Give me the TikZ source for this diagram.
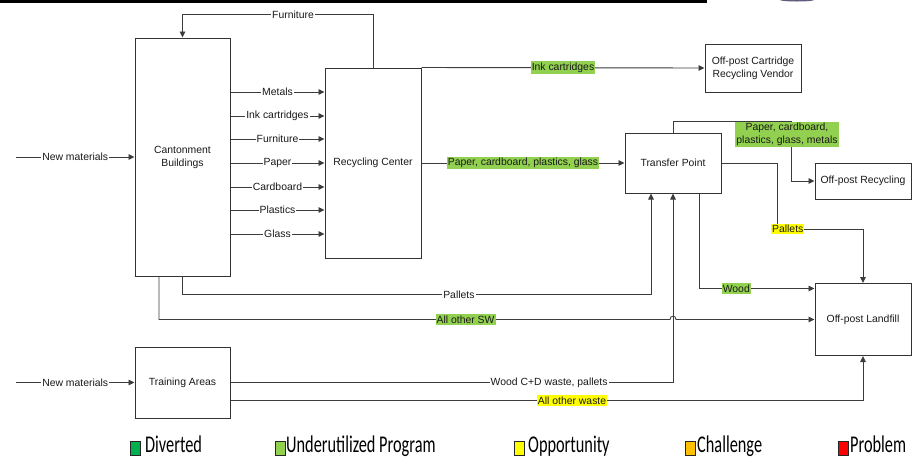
\documentclass[tikz,border=0pt]{standalone}
\usepackage{fontspec}
\setmainfont{Liberation Sans}
\newfontfamily\legendfont[FakeStretch=0.68]{Carlito}
\usepackage{tikz}
\usetikzlibrary{arrows.meta, positioning}

\definecolor{linegray}{RGB}{60,60,60}
\definecolor{divgreen}{RGB}{0,176,80}
\definecolor{undgreen}{RGB}{146,208,80}
\definecolor{oppyellow}{RGB}{255,255,0}
\definecolor{chalorange}{RGB}{255,192,0}
\definecolor{probred}{RGB}{255,0,0}
\definecolor{slidegray}{RGB}{95,95,125}

\begin{document}
\begin{tikzpicture}[x=1pt, y=-1pt, >={Triangle[length=6pt, width=5.5pt]},
    font=\fontsize{10.4}{13}\selectfont,
    blk/.style={draw=black!80, line width=1pt, align=center, text=black!90, inner sep=2pt},
    flow/.style={->, draw=linegray, line width=0.9pt},
    lbl/.style={fill=white, text=black!90, inner xsep=1pt, inner ysep=1.5pt, align=center},
    lblgreen/.style={lbl, fill=undgreen},
    lblyellow/.style={lbl, fill=oppyellow},
    legbox/.style={draw=black!85, line width=0.8pt, minimum width=10pt, minimum height=14pt, inner sep=0pt},
    legtext/.style={anchor=base west, inner sep=0pt, font=\legendfont\fontsize{24}{24}\selectfont}]
    % frame
    \useasboundingbox (0,0) rectangle (916,459);
    \fill[black] (0,0) rectangle (707,2.5);
    \fill[slidegray] (797,0) ellipse (17 and 1.5);

    % boxes
    \node[blk, minimum width=95pt, minimum height=238pt] (cant) at (182.5,157) {Cantonment\\Buildings};
    \node[blk, minimum width=96pt, minimum height=190pt] (rec) at (373,163) {Recycling Center};
    \node[blk, minimum width=96pt, minimum height=48pt] (vendor) at (753,68) {Off-post Cartridge\\Recycling Vendor};
    \node[blk, minimum width=96pt, minimum height=60pt] (tp) at (673,163) {Transfer Point};
    \node[blk, minimum width=96pt, minimum height=36pt] (opr) at (863,181) {Off-post Recycling};
    \node[blk, minimum width=96pt, minimum height=72pt] (land) at (863,319.5) {Off-post Landfill};
    \node[blk, minimum width=95pt, minimum height=71pt] (train) at (182.5,382.5) {Training Areas};

    \coordinate (in1) at (16,157);
    \coordinate (in2) at (16,382.5);
    \coordinate (hop) at (673,319.5);

    % inputs
    \draw[flow] (in1) -- node[lbl] {New materials} (cant.west);
    \draw[flow] (in2) -- node[lbl] {New materials} (train.west);

    % cantonment to recycling center
    \draw[flow] ([yshift=65pt]cant.east) -- node[lbl] {Metals} ([yshift=71pt]rec.west);
    \draw[flow] ([yshift=41pt]cant.east) -- node[lbl] {Ink cartridges} ([yshift=47pt]rec.west);
    \draw[flow] ([yshift=18pt]cant.east) -- node[lbl] {Furniture} ([yshift=24pt]rec.west);
    \draw[flow] ([yshift=-6pt]cant.east) -- node[lbl] {Paper} (rec.west);
    \draw[flow] ([yshift=-30pt]cant.east) -- node[lbl] {Cardboard} ([yshift=-24pt]rec.west);
    \draw[flow] ([yshift=-53pt]cant.east) -- node[lbl] {Plastics} ([yshift=-47pt]rec.west);
    \draw[flow] ([yshift=-77pt]cant.east) -- node[lbl] {Glass} ([yshift=-71pt]rec.west);
    \draw[flow] (rec.north) |- node[lbl, pos=0.71] {Furniture} ([yshift=23pt]cant.north) -- (cant.north);

    % recycling center out
    \draw[flow] (rec.north east) -- node[lblgreen] {Ink cartridges} (vendor.west);
    \draw[flow] (rec.east) -- node[lblgreen] {Paper, cardboard, plastics, glass} (tp.west);

    % transfer point out
    \draw[flow] (tp.north) -- ++(0,-11) -| node[lblgreen, pos=0.61, xshift=-4.5pt] {Paper, cardboard,\\plastics, glass, metals} ([xshift=-23pt]opr.west) -- (opr.west);
    \draw[flow] (tp.east) -- ++(56,0) -- ++(0,66) -| node[lblyellow, pos=0.06] {Pallets} (land.north);
    \draw[flow] ([xshift=-22pt]tp.south east) |- node[lblgreen, pos=0.66] {Wood} ([yshift=31pt]land.west);

    % into transfer point
    \draw[flow] (cant.south) -- ++(0,18) -| node[lbl, pos=0.295] {Pallets} ([xshift=-22pt]tp.south);
    \draw[flow] (train.east) -| node[lbl, pos=0.36] {Wood C+D waste, pallets} (tp.south);

    % into landfill
    \draw[flow] ([xshift=-23.5pt]cant.south) |- node[lblgreen, pos=0.8] {All other SW} ([xshift=-3pt]hop)
        .. controls ([xshift=-3pt, yshift=4.5pt]hop) and ([xshift=3pt, yshift=4.5pt]hop) .. ([xshift=3pt]hop) -- (land.west);
    \draw[flow] ([yshift=-18pt]train.east) -| node[lblyellow, pos=0.27] {All other waste} (land.south);

    % legend
    \node[legbox, fill=divgreen] (kdiv) at (135.5,448) {};
    \node[legtext] (tdiv) at (145,452.5) {Diverted};
    \node[legbox, fill=undgreen] (kund) at (280,448) {};
    \node[legtext] (tund) at (286,452.5) {Underutilized Program};
    \node[legbox, fill=oppyellow] (kopp) at (519,448) {};
    \node[legtext] (topp) at (528,452.5) {Opportunity};
    \node[legbox, fill=chalorange] (kcha) at (690,448) {};
    \node[legtext] (tcha) at (697,452.5) {Challenge};
    \node[legbox, fill=probred] (kpro) at (843,448) {};
    \node[legtext] (tpro) at (850,452.5) {Problem};
\end{tikzpicture}
\end{document}
